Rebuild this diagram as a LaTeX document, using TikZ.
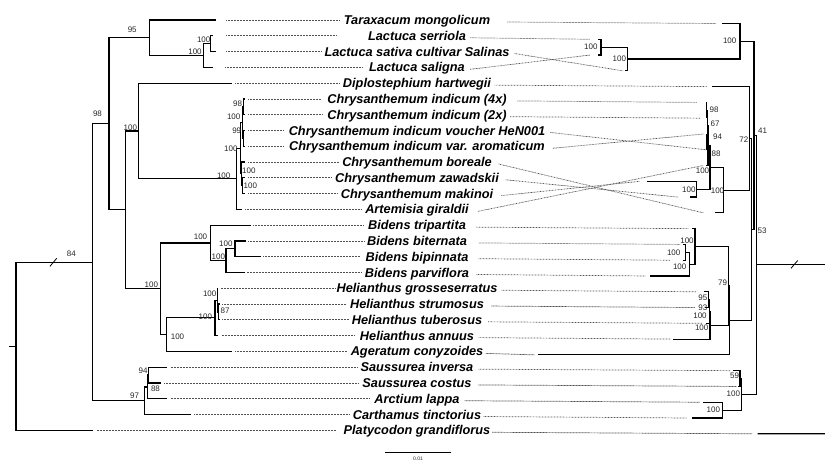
\documentclass[tikz,border=0pt]{standalone}
\usepackage{fontspec}
\setmainfont{Liberation Sans}
\begin{document}
\begin{tikzpicture}[x=1pt,y=-1pt,
  treeline/.style={line width=1.2pt, black},
  leadline/.style={line width=0.7pt, black!68, dash pattern=on 0.8pt off 0.7pt},
  taxlab/.style={inner sep=0pt, anchor=base, font=\fontsize{12.75}{14}\selectfont\bfseries\itshape},
  bootlab/.style={inner sep=0pt, text height=5.7pt, text depth=0pt, font=\fontsize{8}{9}\selectfont, text=black!85},
  scalelab/.style={inner sep=0pt, font=\fontsize{5}{6}\selectfont, text=black!85},
  breakmark/.style={line width=0.8pt, black}]
\useasboundingbox (0,0) rectangle (825,461);

% ---------- taxon labels, left tips, left leaders ----------
\foreach \i/\tx/\sx/\gl/\gr/\nm in {
 0/216/226/4/17/{Taraxacum mongolicum},
 1/213/226/31/4.3/{Lactuca serriola},
 2/216/226/3/5/{Lactuca sativa cultivar Salinas},
 3/213.3/225/6.7/5/{Lactuca saligna},
 4/231.7/235/3.3/3.3/{Diplostephium hartwegii},
 5/245/248.3/6/10.6/{Chrysanthemum indicum (4x)},
 6/245/248.3/5/3.3/{Chrysanthemum indicum (2x)},
 7/245/248.3/4.3/5/{Chrysanthemum indicum voucher HeN001},
 8/245/248.3/5/8/{Chrysanthemum indicum var. aromaticum},
 9/245/248.3/3.3/6.7/{Chrysanthemum boreale},
 10/245/248.3/2.7/6.7/{Chrysanthemum zawadskii},
 11/245/248.3/3.3/8/{Chrysanthemum makinoi},
 12/241.7/245/4/9/{Artemisia giraldii},
 13/250.7/253.3/5/10/{Bidens tripartita},
 14/245.7/248.3/2.7/11.7/{Bidens biternata},
 15/261/263.3/5.7/10/{Bidens bipinnata},
 16/245/246.7/4/7.3/{Bidens parviflora},
 17/217.5/220.5/1.7/4/{Helianthus grosseserratus},
 18/219.5/222/4/7.3/{Helianthus strumosus},
 19/219.5/222/3.3/5.7/{Helianthus tuberosus},
 20/218.3/221.7/5.3/4.3/{Helianthus annuus},
 21/232.3/235/4/2.3/{Ageratum conyzoides},
 22/167.3/170.7/3.3/5/{Saussurea inversa},
 23/161/164.3/3.3/6.7/{Saussurea costus},
 24/166.7/170.7/5/5/{Arctium lappa},
 25/191/194.3/2.7/2.3/{Carthamus tinctorius},
 26/92.7/96.7/7.3/1.7/{Platycodon grandiflorus}}
{
  \pgfmathsetmacro\yy{20+15.78*\i}
  \coordinate (lt\i) at (\tx,\yy);
  \coordinate (ls\i) at (\sx,\yy);
  \node[taxlab] (tx\i) at (417,\yy+4.6) {\nm};
  \draw[leadline, shorten >=\gl pt] (ls\i) -- (ls\i -| tx\i.west);
  \coordinate (lr\i) at (0,\yy+2);
  \coordinate (rsa\i) at (tx\i.east |- lr\i);
  \coordinate (rs\i) at ([xshift=\gr pt]rsa\i);
}

% ---------- right tips and leader ends ----------
\foreach \j/\tx/\ex in {
 0/721.7/716, 1/597.7/590, 2/597.7/590, 3/625/623, 4/711.7/707.7,
 5/706.7/696.7, 6/706.7/700.7, 7/706.7/704, 8/706.7/706, 9/706/703,
 10/646.7/640, 11/690/678, 12/715/703.3, 13/691.7/688.3, 14/683/680,
 15/683/670, 16/650/646, 17/704.3/696.7, 18/705/695, 19/705.5/702.7,
 20/672.7/671, 21/538.3/535, 22/733.3/730, 23/738/736.7, 24/703.3/700,
 25/691.7/686.7, 26/757.5/752}
{
  \pgfmathsetmacro\yy{23.5+15.78*\j}
  \coordinate (rt\j) at (\tx,\yy);
  \coordinate (re\j) at (\ex,\yy);
}

% ---------- right leaders (tanglegram links) ----------
\foreach \i/\j in {0/0,1/1,2/3,3/2,4/4,5/5,6/6,7/8,8/7,9/12,10/11,11/10,12/9,
  13/13,14/14,15/15,16/16,17/17,18/18,19/19,20/20,21/21,22/22,23/23,24/24,25/25,26/26}
  \draw[leadline] (rs\i) -- (re\j);

% ---------- left tree internal nodes ----------
\coordinate (lStub) at (9,346.27);
\coordinate (lRoot) at (16,346.27);
\coordinate (lA) at (92.7,262.25);
\coordinate (lB) at (109,123.8);
\coordinate (lLac) at (149.3,37.75);
\coordinate (lLac2) at (203.3,55.5);
\coordinate (lLac3) at (210.7,43.67);
\coordinate (lC) at (125.7,209.85);
\coordinate (lD) at (138.3,130.95);
\coordinate (lE) at (236.5,178.78);
\coordinate (lN) at (240.3,148.2);
\coordinate (lI) at (242.6,122.57);
\coordinate (lI1) at (243.3,106.79);
\coordinate (lI2) at (243.3,138.35);
\coordinate (lQ) at (241.8,173.86);
\coordinate (lQ1) at (242.6,185.69);
\coordinate (lF) at (160.7,288.75);
\coordinate (lG) at (210.7,242.9);
\coordinate (lH) at (226,260.65);
\coordinate (lIb) at (235,248.81);
\coordinate (lJ) at (166.7,334.6);
\coordinate (lK) at (215,317.85);
\coordinate (lL) at (217.2,300.1);
\coordinate (lM) at (218.3,311.93);
\coordinate (lS) at (144.3,400.7);
\coordinate (lT) at (147.7,386.9);
\coordinate (lU) at (148.7,375.05);

\draw[treeline] (lStub) -- (lRoot);
\foreach \p/\c in {lRoot/lA, lRoot/lt26, lA/lB, lA/lS, lB/lLac, lB/lC,
  lLac/lt0, lLac/lLac2, lLac2/lLac3, lLac2/lt3, lLac3/lt1, lLac3/lt2,
  lC/lD, lC/lF, lD/lt4, lD/lE, lE/lN, lE/lt12, lN/lI, lN/lQ,
  lI/lI1, lI/lI2, lI1/lt5, lI1/lt6, lI2/lt7, lI2/lt8,
  lQ/lt9, lQ/lQ1, lQ1/lt10, lQ1/lt11,
  lF/lG, lF/lJ, lG/lt13, lG/lH, lH/lIb, lH/lt16, lIb/lt14, lIb/lt15,
  lJ/lK, lJ/lt21, lK/lL, lK/lt20, lL/lt17, lL/lM, lM/lt18, lM/lt19,
  lS/lT, lS/lt25, lT/lU, lT/lt24, lU/lt22, lU/lt23}
  \draw[treeline] (\p) |- (\c);

% ---------- right tree internal nodes ----------
\coordinate (rR) at (756.3,264.8);
\coordinate (rRend) at (825,264.8);
\coordinate (rPend) at (825,433.78);
\coordinate (rN41) at (754,135.32);
\coordinate (rLac) at (740,41.25);
\coordinate (rLL) at (627.7,59.0);
\coordinate (rLS) at (601,47.17);
\coordinate (rN53) at (751.8,229.39);
\coordinate (rN72) at (749.3,138.4);
\coordinate (rCA) at (723.3,190.18);
\coordinate (rCC) at (710,167.5);
\coordinate (rR88) at (707.9,145.8);
\coordinate (rR67) at (707.3,126.07);
\coordinate (rR98) at (706.7,110.29);
\coordinate (rR94) at (706.7,141.85);
\coordinate (rCB) at (696.7,189.19);
\coordinate (rNBH) at (729.5,320.37);
\coordinate (rN79) at (728.3,285.85);
\coordinate (rBA) at (695,246.4);
\coordinate (rBB) at (689.3,264.15);
\coordinate (rBC) at (685.5,252.31);
\coordinate (rHc) at (710,325.3);
\coordinate (rHb) at (709.3,311.49);
\coordinate (rHa) at (708.6,299.65);
\coordinate (rS100) at (741.7,394.33);
\coordinate (rS59) at (740,378.55);
\coordinate (rSA) at (722.3,410.11);

\draw[treeline] (rR) -- (rRend);
\draw[treeline] (rt26) -- (rPend);
\foreach \p/\c in {rR/rN41, rR/rS100, rN41/rLac, rN41/rN53,
  rLac/rt0, rLac/rLL, rLL/rLS, rLL/rt3, rLS/rt1, rLS/rt2,
  rN53/rN72, rN53/rNBH, rN72/rt4, rN72/rCA, rCA/rCC, rCA/rt12,
  rCC/rR88, rCC/rCB, rR88/rR67, rR88/rt9, rR67/rR98, rR67/rR94,
  rR98/rt5, rR98/rt6, rR94/rt7, rR94/rt8, rCB/rt10, rCB/rt11,
  rNBH/rN79, rNBH/rt21, rN79/rBA, rN79/rHc, rBA/rt13, rBA/rBB,
  rBB/rBC, rBB/rt16, rBC/rt14, rBC/rt15, rHc/rHb, rHc/rt20,
  rHb/rHa, rHb/rt19, rHa/rt17, rHa/rt18,
  rS100/rS59, rS100/rSA, rS59/rt22, rS59/rt23, rSA/rt24, rSA/rt25}
  \draw[treeline] (\p) |- (\c);

% ---------- branch break marks ----------
\coordinate (bkLa) at (50,266.3);
\coordinate (bkLb) at (56.7,258.3);
\coordinate (bkRa) at (791,268.3);
\coordinate (bkRb) at (797.7,260.5);
\draw[breakmark] (bkLa) -- (bkLb);
\draw[breakmark] (bkRa) -- (bkRb);

% ---------- bootstrap values ----------
\foreach \x/\y/\t [count=\k] in {
 132.2/29.3/95, 203.7/39.3/100, 195/51.7/100, 97.5/113.3/98, 130.3/127.7/100,
 223.7/175.5/100, 237.5/103.3/98, 233.7/116.2/100, 236.7/130.6/99, 230.8/148.3/100,
 248.8/171/100, 250.3/185.3/100, 71.3/253.7/84, 200.5/237/100, 225.8/244/100,
 218.3/256.7/100, 151.3/284.3/100, 209.7/294/100, 225/310.7/87, 205.3/316.3/100,
 177.5/336.3/100, 143/371/94, 155.5/389/88, 134.5/395.7/97}
  \node[bootlab] (bsl\k) at (\x,\y) {\t};
\foreach \x/\y/\t [count=\k] in {
 590.8/46.7/100, 619.3/58.3/100, 729.7/41/100, 714/109.3/98, 715/123.7/67,
 717.5/136.5/94, 716/153.3/88, 702.5/171/100, 688.8/190/100, 717.5/191/100,
 743.8/139.3/72, 762.5/131/41, 762/230.7/53, 687/240.7/100, 673.7/252.3/100,
 679.7/266.7/100, 722.5/282.7/79, 702.8/297.7/95, 702.8/307.3/93, 700/316/100,
 701.7/327.7/100, 734.5/375.7/59, 733.3/394/100, 713.3/410/100}
  \node[bootlab] (bsr\k) at (\x,\y) {\t};

% ---------- scale bar ----------
\coordinate (sbA) at (385,452.3);
\coordinate (sbB) at (451,452.3);
\draw[treeline] (sbA) -- (sbB);
\node[scalelab] (sblab) at (418,458.5) {0.01};
\end{tikzpicture}
\end{document}
